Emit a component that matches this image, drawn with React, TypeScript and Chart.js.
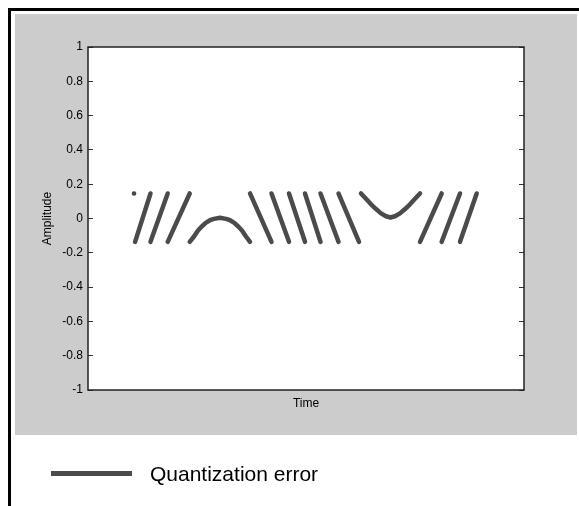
import React, { useEffect, useRef } from 'react';
import { Chart, registerables } from 'chart.js';

Chart.register(...registerables);

// ---- data ----
const seriesLabel = 'Quantization error';
const xAxisTitle = 'Time';
const yAxisTitle = 'Amplitude';

const yTickValues = [-1, -0.8, -0.6, -0.4, -0.2, 0, 0.2, 0.4, 0.6, 0.8, 1];
const yTickLabels = ['-1', '-0.8', '-0.6', '-0.4', '-0.2', '0', '0.2', '0.4', '0.6', '0.8', '1'];

// time (0..1 across the plot) and error; null separates the sample runs
const errorTime = [
  0.1053, 0.1058, 0.107,
  0.108, 0.1433, 0.1433,
  0.1433, 0.1828, 0.1828,
  0.1828, 0.2333, 0.2333,
  0.2333, 0.2431, 0.2523, 0.2615, 0.2706, 0.2798, 0.289, 0.3028, 0.3165, 0.3257, 0.3349, 0.344, 0.3532, 0.3624, 0.3716, 0.3716,
  0.3716, 0.4209, 0.4209,
  0.4209, 0.461, 0.461,
  0.461, 0.4977, 0.4977,
  0.4977, 0.5333, 0.5333,
  0.5333, 0.5745, 0.5745,
  0.5745, 0.6216, 0.624,
  0.6261, 0.6376, 0.6491, 0.6606, 0.672, 0.6835, 0.6938, 0.7041, 0.7156, 0.7271, 0.7385, 0.75, 0.7615, 0.7615,
  0.7615, 0.8112, 0.8112,
  0.8112, 0.8532, 0.8532,
  0.8532, 0.8915,
];
const errorValue = [
  0.146, 0.146, null,
  -0.136, 0.146, null,
  -0.136, 0.146, null,
  -0.136, 0.146, null,
  -0.136, -0.105, -0.07, -0.045, -0.024, -0.01, -0.002, 0.004, -0.002, -0.01, -0.024, -0.045, -0.07, -0.105, -0.136, null,
  0.146, -0.136, null,
  0.146, -0.136, null,
  0.146, -0.136, null,
  0.146, -0.136, null,
  0.146, -0.136, null,
  0.146, -0.136, null,
  0.146, 0.115, 0.083, 0.055, 0.03, 0.013, 0.006, 0.013, 0.03, 0.055, 0.083, 0.115, 0.146, null,
  -0.136, 0.146, null,
  -0.136, 0.146, null,
  -0.136, 0.146,
];

const LINE_COLOR = '#4b4b4b';
const FONT = 'Arial, "Liberation Sans", Helvetica, sans-serif';

const framePlugin = {
  id: 'frame',
  beforeDraw(chart: any) {
    const { ctx, chartArea } = chart;
    ctx.save();
    ctx.fillStyle = '#ffffff';
    ctx.fillRect(0, 0, chart.width, chart.height);
    ctx.fillStyle = '#000000';
    ctx.fillRect(8, 8, chart.width - 8, 3);
    ctx.fillRect(8, 8, 3, chart.height - 8);
    ctx.fillStyle = '#cccccc';
    ctx.fillRect(15, 14, 562, 421);
    ctx.fillStyle = '#ffffff';
    ctx.fillRect(chartArea.left, chartArea.top, chartArea.right - chartArea.left, chartArea.bottom - chartArea.top);
    ctx.restore();
  },
  afterDraw(chart: any) {
    const { ctx, chartArea } = chart;
    ctx.save();
    ctx.strokeStyle = '#222222';
    ctx.lineWidth = 1.5;
    ctx.strokeRect(chartArea.left, chartArea.top, chartArea.right - chartArea.left, chartArea.bottom - chartArea.top);
    // legend
    const ds = chart.data.datasets[0];
    ctx.fillStyle = ds.borderColor;
    ctx.fillRect(51, 471, 81, 5);
    ctx.fillStyle = '#000000';
    ctx.font = `21px ${FONT}`;
    ctx.textAlign = 'left';
    ctx.textBaseline = 'alphabetic';
    ctx.fillText(ds.label, 150, 481);
    ctx.restore();
  },
};

export default function App() {
  const ref = useRef<HTMLCanvasElement>(null);
  useEffect(() => {
    const canvas = ref.current!;
    const points = errorTime.map((t, i) => ({ x: t, y: errorValue[i] }));
    const setTicks = (scale: any) => {
      scale.ticks = yTickValues.map((v) => ({ value: v }));
    };
    const chart = new Chart(canvas, {
      type: 'scatter',
      data: {
        datasets: [
          {
            label: seriesLabel,
            data: points as any,
            showLine: true,
            spanGaps: false,
            borderColor: LINE_COLOR,
            backgroundColor: LINE_COLOR,
            borderWidth: 4.5,
            borderCapStyle: 'round',
            borderJoinStyle: 'round',
            pointRadius: 0,
            pointHoverRadius: 0,
            fill: false,
          } as any,
        ],
      },
      options: {
        animation: false,
        responsive: false,
        maintainAspectRatio: false,
        devicePixelRatio: 1,
        layout: { padding: { left: 0, top: 47, right: 0, bottom: 0 } },
        plugins: { legend: { display: false }, tooltip: { enabled: false } },
        scales: {
          x: {
            type: 'linear',
            min: 0,
            max: 1,
            position: 'bottom',
            grid: { display: false },
            border: { display: false },
            ticks: { display: false },
            title: {
              display: true,
              text: xAxisTitle,
              color: '#000',
              font: { family: FONT, size: 12 },
              padding: { top: 0, bottom: 95 },
            },
            afterFit: (s: any) => {
              s.height = 116;
            },
          },
          y: {
            type: 'linear',
            min: -1,
            max: 1,
            position: 'left',
            afterBuildTicks: setTicks,
            grid: { drawOnChartArea: false, drawTicks: true, tickLength: -5, color: '#333', lineWidth: 1 },
            border: { display: false },
            ticks: {
              color: '#000',
              padding: 10,
              font: { family: FONT, size: 12 },
              callback: (v: any) => yTickLabels[yTickValues.indexOf(Math.round(Number(v) * 10) / 10)] ?? '',
            },
            title: {
              display: true,
              text: yAxisTitle,
              color: '#000',
              font: { family: FONT, size: 12 },
              padding: { top: 40, bottom: 0 },
            },
            afterFit: (s: any) => {
              s.width = 88;
            },
          },
          y2: {
            type: 'linear',
            min: -1,
            max: 1,
            position: 'right',
            afterBuildTicks: setTicks,
            grid: { drawOnChartArea: false, drawTicks: true, tickLength: -5, color: '#333', lineWidth: 1 },
            border: { display: false },
            ticks: { display: false },
            afterFit: (s: any) => {
              s.width = 55;
            },
          },
        },
      } as any,
      plugins: [framePlugin],
    });
    return () => chart.destroy();
  }, []);
  return (
    <div style={{ position: 'fixed', left: 0, top: 0, width: 579, height: 506 }}>
      <canvas ref={ref} width={579} height={506} style={{ display: 'block', width: 579, height: 506 }} />
    </div>
  );
}
